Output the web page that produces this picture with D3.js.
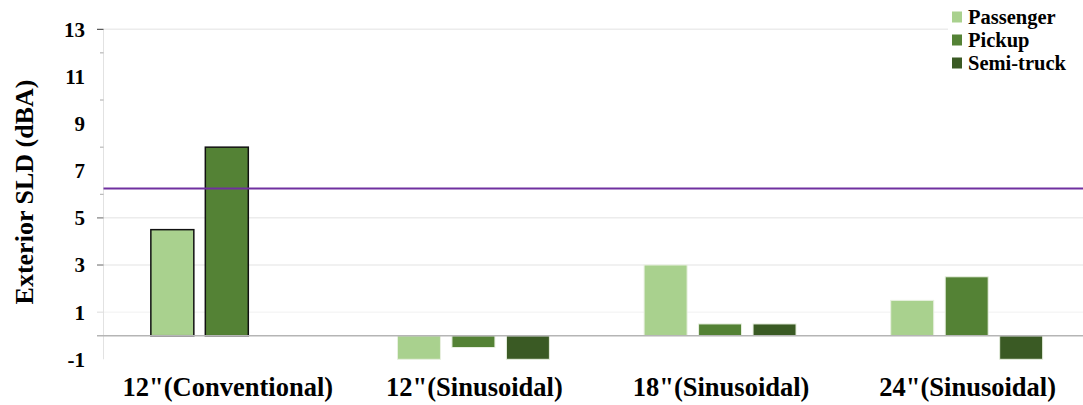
<!DOCTYPE html>
<html><head><meta charset="utf-8">
<script src="https://cdn.jsdelivr.net/npm/d3@7"></script>
<style>body{margin:0;background:#fff}svg{display:block}</style>
</head><body>
<svg id="c" width="1083" height="405"></svg>
<script>
const categories = ['12"(Conventional)', '12"(Sinusoidal)', '18"(Sinusoidal)', '24"(Sinusoidal)'];
const seriesNames = ["Passenger", "Pickup", "Semi-truck"];
const passenger = [4.5, -1, 3, 1.5];
const pickup = [8, -0.5, 0.5, 2.5];
const semiTruck = [null, -1, 0.5, -1];
const yTicks = [13, 11, 9, 7, 5, 3, 1, -1];
const minorTicks = [12, 10, 8, 6];
const thresholdValue = 6.25;
const colors = ["#a9d18e", "#548235", "#3a5a24"];

const FONT = "'Liberation Serif', 'Times New Roman', 'DejaVu Serif', serif";
const seriesData = [passenger, pickup, semiTruck];
const svg = d3.select("#c").attr("font-family", FONT).attr("font-weight", "bold");
const pLeft = 103.5, pRight = 1090, pTop = 29.3, pBottom = 359.3;

const y = d3.scaleLinear().domain([-1, 13]).range([pBottom, pTop]);
const x0 = d3.scaleBand().domain(categories).range([pLeft, pRight]).paddingInner(0.384).paddingOuter(0.192);
const x1 = d3.scaleBand().domain(seriesNames).range([0, x0.bandwidth()]).paddingInner(0.211).paddingOuter(0);

// gridlines
const grid = [13, 5, 3, 1];
svg.append("g").selectAll("line").data(grid).join("line")
  .attr("x1", pLeft).attr("x2", 1083)
  .attr("y1", d => y(d)).attr("y2", d => y(d))
  .attr("stroke", d => d === 1 ? "#f6f6f6" : "#ececec").attr("stroke-width", 1.5);

// y axis line
svg.append("line").attr("x1", pLeft).attr("x2", pLeft).attr("y1", pTop).attr("y2", pBottom)
  .attr("stroke", "#e2e2e2").attr("stroke-width", 1);

// ticks
svg.append("line").attr("x1", 97).attr("x2", pLeft).attr("y1", y(13)).attr("y2", y(13)).attr("stroke", "#333").attr("stroke-width", 1);
svg.append("g").selectAll("line").data(minorTicks).join("line")
  .attr("x1", 100).attr("x2", pLeft).attr("y1", d => y(d)).attr("y2", d => y(d))
  .attr("stroke", "#aaa").attr("stroke-width", 1);
svg.append("g").selectAll("line").data([5, 3]).join("line")
  .attr("x1", 97).attr("x2", pLeft).attr("y1", d => y(d)).attr("y2", d => y(d))
  .attr("stroke", "#999").attr("stroke-width", 1.5);
svg.append("line").attr("x1", 97).attr("x2", pLeft).attr("y1", y(1)).attr("y2", y(1)).attr("stroke", "#ddd").attr("stroke-width", 1);

// tick labels
svg.append("g").selectAll("text").data(yTicks).join("text")
  .attr("x", 85).attr("y", d => y(d)).attr("dy", "0.35em")
  .attr("text-anchor", "end").attr("font-size", 21).attr("fill", "#000").text(d => d);

// bars
const bars = [];
categories.forEach((c, i) => seriesNames.forEach((s, j) => {
  const v = seriesData[j][i];
  if (v !== null && v !== undefined) bars.push({c, s, v, j, i});
}));
svg.append("g").selectAll("rect").data(bars).join("rect")
  .attr("x", d => x0(d.c) + x1(d.s))
  .attr("width", x1.bandwidth())
  .attr("y", d => y(Math.max(0, d.v)))
  .attr("height", d => Math.abs(y(d.v) - y(0)))
  .attr("fill", d => colors[d.j])
  .attr("stroke", d => d.i === 0 ? "#111" : "#e8f0e0")
  .attr("stroke-width", d => d.i === 0 ? 1.5 : 1);

// zero line
svg.append("line").attr("x1", 97).attr("x2", 1083).attr("y1", y(0)).attr("y2", y(0))
  .attr("stroke", "#b5b5b5").attr("stroke-width", 1.5);

// threshold line
svg.append("line").attr("x1", pLeft).attr("x2", 1083).attr("y1", y(thresholdValue)).attr("y2", y(thresholdValue))
  .attr("stroke", "#7030a0").attr("stroke-width", 2);

// x labels
svg.append("g").selectAll("text").data(categories).join("text")
  .attr("x", d => x0(d) + x0.bandwidth() / 2 + 1).attr("y", 396)
  .attr("text-anchor", "middle").attr("font-size", 26.5).attr("fill", "#000").text(d => d);

// y title
svg.append("text").attr("transform", "translate(33,192) rotate(-90)")
  .attr("text-anchor", "middle").attr("font-size", 26).attr("fill", "#000").text("Exterior SLD (dBA)");

// legend
const lg = svg.append("g");
lg.append("rect").attr("x", 948).attr("y", 0).attr("width", 135).attr("height", 75).attr("fill", "#fff");
const items = lg.selectAll("g").data(seriesNames).join("g")
  .attr("transform", (d, i) => `translate(952,${17 + i * 23})`);
items.append("rect").attr("x", 0).attr("y", -5.5).attr("width", 10).attr("height", 11)
  .attr("fill", (d, i) => colors[i]);
items.append("text").attr("x", 16).attr("y", 0).attr("dy", "0.35em").attr("font-size", 20.5).attr("fill", "#000").text(d => d);
</script>
</body></html>
